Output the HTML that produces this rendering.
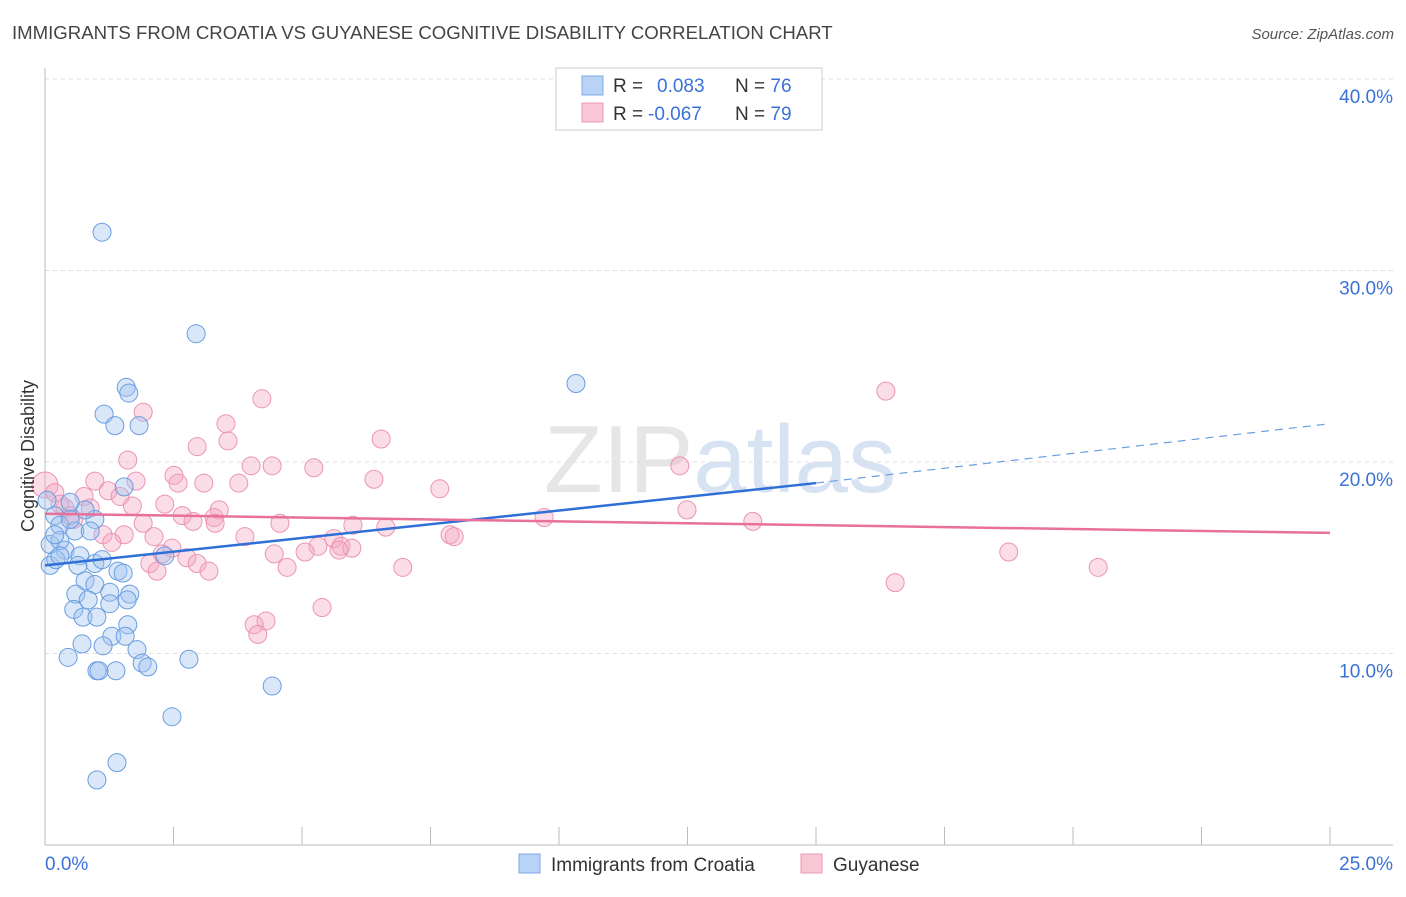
<!DOCTYPE html>
<html><head><meta charset="utf-8">
<style>
body{margin:0;background:#fff;font-family:"Liberation Sans",sans-serif;}
svg text{font-family:"Liberation Sans",sans-serif;}
</style></head>
<body>
<svg id="chart" width="1406" height="892" xmlns="http://www.w3.org/2000/svg">
<text x="12" y="39" font-size="18.6" fill="#444">IMMIGRANTS FROM CROATIA VS GUYANESE COGNITIVE DISABILITY CORRELATION CHART</text>
<text x="1394" y="39" font-size="15" fill="#555" text-anchor="end" font-style="italic">Source: ZipAtlas.com</text>
<text x="720" y="492" font-size="96" fill="#e6e6e6" text-anchor="middle" font-family="Liberation Serif"><tspan>ZIP</tspan><tspan fill="#d7e3f3" font-family="Liberation Sans">atlas</tspan></text>
<g id="grid"></g>
<g id="axes"></g>
<g id="pts"></g>
<g id="trend"></g>
<text transform="translate(34,456) rotate(-90)" font-size="18" fill="#333" text-anchor="middle">Cognitive Disability</text>
<g>
<rect x="556" y="68" width="266" height="62" fill="#fff" stroke="#ccc"/>
<rect x="582" y="76" width="21" height="19" fill="#b9d3f6" stroke="#7ea9e6"/>
<rect x="582" y="103" width="21" height="19" fill="#f8c6d5" stroke="#eb9ab6"/>
<text x="613" y="92" font-size="19" fill="#333">R = <tspan fill="#3a72d8" x="657">0.083</tspan><tspan x="735">N = </tspan><tspan fill="#3a72d8">76</tspan></text>
<text x="613" y="120" font-size="19" fill="#333">R = <tspan fill="#3a72d8" x="648">-0.067</tspan><tspan x="735">N = </tspan><tspan fill="#3a72d8">79</tspan></text>
</g>
<g>
<rect x="519" y="854" width="21" height="19" fill="#b9d3f6" stroke="#7ea9e6"/>
<text x="551" y="871" font-size="19" fill="#333">Immigrants from Croatia</text>
<rect x="801" y="854" width="21" height="19" fill="#f8c6d5" stroke="#eb9ab6"/>
<text x="833" y="871" font-size="19" fill="#333">Guyanese</text>
</g>
</svg>
<script>
const blueX=[1.11,2.94,10.33,1.58,1.63,1.15,1.36,1.83,1.54,0.04,0.49,0.97,0.78,0.19,0.29,0.58,0.10,0.39,0.68,0.10,0.21,0.97,1.11,0.64,1.42,1.52,0.78,0.97,1.26,1.65,0.60,0.84,1.26,1.60,0.56,0.74,1.01,1.61,1.30,1.56,0.72,1.13,1.79,0.45,1.89,2.00,1.38,1.01,1.05,2.80,2.47,4.42,1.40,1.01,0.29,0.88,0.49,0.19,2.33,0.29];
const blueY=[32.0,26.7,24.1,23.9,23.6,22.5,21.9,21.9,18.7,18.0,17.9,17.0,17.5,17.2,16.7,16.4,15.7,15.4,15.1,14.6,14.9,14.7,14.9,14.6,14.3,14.2,13.8,13.6,13.2,13.1,13.1,12.8,12.6,12.8,12.3,11.9,11.9,11.5,10.9,10.9,10.5,10.4,10.2,9.8,9.5,9.3,9.1,9.1,9.1,9.7,6.7,8.3,4.3,3.4,15.9,16.4,17.0,16.2,15.1,15.1];
const pinkX=[0,16.36,4.22,1.91,3.52,6.54,3.56,2.96,1.61,12.35,4.01,4.42,5.23,2.51,6.40,0.97,1.77,2.59,3.09,3.77,7.68,1.23,0.76,1.46,0.19,2.33,1.70,0.39,0.88,3.39,12.49,2.67,3.29,2.88,9.71,13.77,4.57,1.91,3.31,0.56,5.99,6.63,1.13,1.54,2.12,3.89,5.62,7.88,7.96,5.31,5.76,5.97,5.06,5.72,2.47,2.28,4.46,2.76,18.75,2.04,2.96,4.71,6.96,2.18,3.19,20.49,16.54,5.39,4.30,4.07,4.14,0.29,0.49,1.30];
const pinkY=[18.8,23.7,23.3,22.6,22.0,21.2,21.1,20.8,20.1,19.8,19.8,19.8,19.7,19.3,19.1,19.0,19.0,18.9,18.9,18.9,18.6,18.5,18.2,18.2,18.4,17.8,17.7,17.6,17.6,17.5,17.5,17.2,17.1,16.9,17.1,16.9,16.8,16.8,16.8,17.0,16.7,16.6,16.2,16.2,16.1,16.1,16.0,16.2,16.1,15.6,15.6,15.5,15.3,15.4,15.5,15.2,15.2,15.0,15.3,14.7,14.7,14.5,14.5,14.3,14.3,14.5,13.7,12.4,11.7,11.5,11.0,17.8,17.2,15.8];
const yTicks=[10,20,30,40];
const xTickLabels=["0.0%","25.0%"];
const blueTrend=[[0,14.6],[15,18.9],[25,22.0]];
const pinkTrend=[[0,17.3],[25,16.3]];

const NS="http://www.w3.org/2000/svg";
const X=v=>45+v*51.4, Y=v=>845-v*19.15;
function mk(t,a,p){const e=document.createElementNS(NS,t);for(const k in a)e.setAttribute(k,a[k]);p.appendChild(e);return e;}
const grid=document.getElementById('grid'),axes=document.getElementById('axes');
yTicks.forEach(t=>{
 const l=mk('line',{x1:45,x2:1393,y1:Y(t),y2:Y(t),stroke:'#ddd','stroke-dasharray':'4,4'},grid);
 
 
 const tx=mk('text',{x:1393,y:Y(t)+24,'font-size':19,fill:'#3a72d8','text-anchor':'end'},axes);
 tx.textContent=t.toFixed(1)+'%';
 
 
});
const al=mk('line',{x1:45,x2:45,y1:68,y2:845,stroke:'#bbb'},axes);


const bl=mk('line',{x1:45,x2:1393,y1:845,y2:845,stroke:'#bbb'},axes);


for(let i=0;i<=10;i++){
 const t=mk('line',{x1:X(i*2.5),x2:X(i*2.5),y1:827,y2:845,stroke:'#bbb'},axes);
 
 
}
[[0,'start'],[25,'end']].forEach((d,i)=>{
 const t=mk('text',{x:d[0]==0?45:1393,y:870,'font-size':19,fill:'#3a72d8','text-anchor':d[1]},axes);
 t.textContent=xTickLabels[i];
 
 
});
const pts=document.getElementById('pts');
pinkX.forEach((x,i)=>{
 const c=mk('circle',{cx:X(x),cy:Y(pinkY[i]),r:i==0?13:9,fill:'rgba(244,170,195,0.4)',stroke:'#eb94b3','stroke-width':1},pts);
 
 
});
blueX.forEach((x,i)=>{
 const c=mk('circle',{cx:X(x),cy:Y(blueY[i]),r:9,fill:'rgba(160,195,240,0.4)',stroke:'#6a9ee0','stroke-width':1},pts);
 
 
});
const tr=document.getElementById('trend');
const b1=mk('line',{x1:X(blueTrend[0][0]),y1:Y(blueTrend[0][1]),x2:X(blueTrend[1][0]),y2:Y(blueTrend[1][1]),stroke:'#2f6fd8','stroke-width':2.5},tr);


const b2=mk('line',{x1:X(blueTrend[1][0]),y1:Y(blueTrend[1][1]),x2:X(blueTrend[2][0]),y2:Y(blueTrend[2][1]),stroke:'#6a9ee0','stroke-width':1.2,'stroke-dasharray':'8,6'},tr);


const p1=mk('line',{x1:X(pinkTrend[0][0]),y1:Y(pinkTrend[0][1]),x2:X(pinkTrend[1][0]),y2:Y(pinkTrend[1][1]),stroke:'#e8709a','stroke-width':2.5},tr);


</script>
</body></html>
